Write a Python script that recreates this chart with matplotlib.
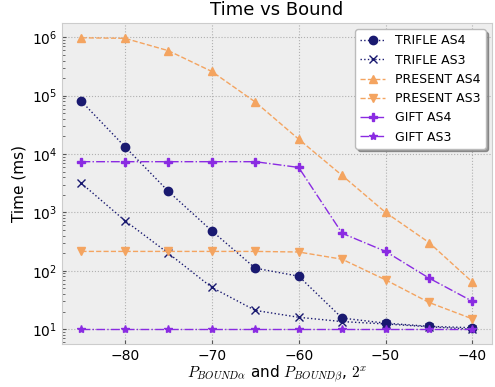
import matplotlib
matplotlib.use('Agg')
import matplotlib.pyplot as plt

plt.rcParams['mathtext.fontset'] = 'cm'

bounds = [-85, -80, -75, -70, -65, -60, -55, -50, -45, -40]

trifle_as4 = [80000, 13400, 2300, 484, 111, 81, 15.5, 12.7, 11.2, 10.6]
trifle_as3 = [3150, 725, 200, 52, 21, 16, 13.5, 12.3, 11, 10]
present_as4 = [980000, 960000, 590000, 260000, 78000, 18000, 4300, 1000, 305, 64]
present_as3 = [215, 215, 215, 215, 215, 210, 158, 70, 28.7, 15]
gift_as4 = [7400, 7400, 7400, 7400, 7400, 5900, 440, 215, 75, 30]
gift_as3 = [9.9, 9.9, 9.9, 9.9, 9.9, 9.9, 9.9, 9.9, 9.9, 9.9]

navy = '#191970'
orange = '#f4a460'
purple = '#8a2be2'

fig, ax = plt.subplots(figsize=(4.95, 3.87), dpi=100)
fig.subplots_adjust(left=0.125, right=0.994, bottom=0.111, top=0.94)
ax.set_facecolor('#eeeeee')

ax.plot(bounds, trifle_as4, ':', marker='o', color=navy, ms=6, lw=1, label='TRIFLE AS4')
ax.plot(bounds, trifle_as3, ':', marker='x', color=navy, ms=6, lw=1, label='TRIFLE AS3')
ax.plot(bounds, present_as4, '--', marker='^', color=orange, ms=6, lw=1, label='PRESENT AS4')
ax.plot(bounds, present_as3, '--', marker='v', color=orange, ms=6, lw=1, label='PRESENT AS3')
ax.plot(bounds, gift_as4, '-.', marker='P', color=purple, ms=6, lw=1, label='GIFT AS4')
ax.plot(bounds, gift_as3, '-.', marker='*', color=purple, ms=6, lw=1, label='GIFT AS3')

ax.set_yscale('log')
ax.grid(True, which='major', linestyle=':', color='#b0b0b0', lw=0.8)
ax.tick_params(which='both', direction='in', color='#555555')
ax.tick_params(which='major', length=3)
ax.tick_params(which='minor', length=2)
for s in ax.spines.values():
    s.set_color('#cccccc')

ax.set_title('Time vs Bound', fontsize=13)
ax.set_ylabel('Time (ms)', fontsize=11)
ax.set_xlabel(r'$P_{BOUND\alpha}$ and $P_{BOUND\beta}$, $2^x$', fontsize=11, labelpad=1)

leg = ax.legend(loc='upper right', fancybox=True, shadow=True, framealpha=1, fontsize=9)
leg.get_frame().set_edgecolor('#bbbbbb')

plt.savefig('out.png')
